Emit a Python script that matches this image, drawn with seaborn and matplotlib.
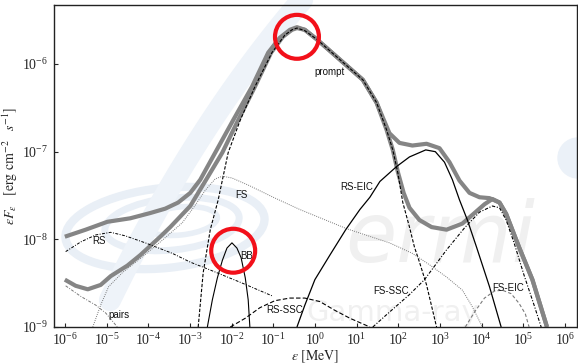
import numpy as np
import matplotlib
matplotlib.use("Agg")
import matplotlib.pyplot as plt
import seaborn as sns
from matplotlib.patches import Ellipse, Circle
from matplotlib.ticker import LogFormatterMathtext, NullLocator

# Spectral components: log10(E / MeV) and log10(E F_E / erg cm^-2 s^-1)
prompt_logE = [-2.80, -2.68, -2.51, -2.32, -2.08, -1.79, -1.44, -1.03, -0.72, -0.55, -0.43,
               -0.24, 0.05, 0.60, 1.15, 1.48, 1.72, 1.87, 1.99, 2.11, 2.27, 2.39, 2.51, 2.68, 2.92]
prompt_logF = [-9.00, -8.38, -7.89, -7.55, -7.01, -6.64, -6.26, -5.87, -5.67, -5.61, -5.59,
               -5.62, -5.72, -5.95, -6.18, -6.44, -6.75, -6.98, -7.24, -7.58, -7.86, -8.09, -8.26, -8.52, -9.00]

total_rs_logE = [-6.00, -5.50, -4.98, -4.43, -3.95, -3.59, -3.28, -2.99, -2.75, -2.39, -1.96,
                 -1.51, -1.12, -0.84, -0.60, -0.43, -0.24, 0.05, 0.60, 1.15, 1.48, 1.63, 1.79,
                 2.03, 2.34, 2.68, 2.99, 3.23, 3.47, 3.71, 3.95, 4.19, 4.43, 4.59, 4.90, 5.22, 5.57]
total_rs_logF = [-7.97, -7.89, -7.80, -7.76, -7.70, -7.65, -7.58, -7.47, -7.32, -7.01, -6.64,
                 -6.26, -5.87, -5.70, -5.61, -5.58, -5.61, -5.72, -5.95, -6.18, -6.44, -6.61, -6.79,
                 -6.90, -6.93, -6.91, -6.96, -7.12, -7.33, -7.47, -7.52, -7.53, -7.58, -7.71, -8.09, -8.46, -9.00]

total_fs_logE = [-6.00, -5.74, -5.45, -5.14, -4.90, -4.50, -4.19, -3.71, -3.47, -3.23, -2.99,
                 -2.80, -2.61, -2.22, -1.84, -1.44, -1.05, -0.77, -0.55, -0.43, -0.24, 0.05,
                 0.60, 1.15, 1.48, 1.72, 1.87, 1.99, 2.13, 2.27, 2.51, 2.80, 3.16, 3.54, 3.83,
                 4.07, 4.26, 4.43, 4.59, 4.90, 5.22, 5.57]
total_fs_logF = [-8.46, -8.53, -8.57, -8.52, -8.42, -8.30, -8.18, -7.97, -7.86, -7.74, -7.62,
                 -7.47, -7.32, -7.01, -6.64, -6.26, -5.87, -5.69, -5.61, -5.59, -5.61, -5.72,
                 -5.95, -6.18, -6.44, -6.75, -6.98, -7.23, -7.47, -7.64, -7.78, -7.86, -7.89, -7.82, -7.70,
                 -7.60, -7.54, -7.58, -7.71, -8.09, -8.46, -9.00]

rs_logE = [-5.98, -5.62, -5.26, -4.90, -4.55, -4.07, -3.42, -2.99, -2.51, -1.79, -1.00]
rs_logF = [-8.14, -8.03, -7.95, -7.92, -7.96, -8.04, -8.16, -8.26, -8.35, -8.49, -8.65]

fs_logE = [-5.33, -5.14, -4.95, -4.62, -4.14, -3.66, -3.18, -2.87, -2.63, -2.39, -2.22, -1.99,
           -1.56, -1.00, -0.36, 0.77, 1.79, 2.34, 2.75, 3.16, 3.54, 3.78, 4.02]
fs_logF = [-9.00, -8.75, -8.54, -8.38, -8.20, -8.01, -7.81, -7.61, -7.44, -7.31, -7.28, -7.30,
           -7.39, -7.52, -7.66, -7.88, -8.04, -8.16, -8.29, -8.43, -8.58, -8.77, -9.00]

bb_logE = [-2.58, -2.46, -2.34, -2.22, -2.11, -1.99, -1.87, -1.77, -1.67, -1.60, -1.56]
bb_logF = [-9.00, -8.69, -8.44, -8.24, -8.10, -8.04, -8.10, -8.21, -8.44, -8.69, -9.00]

rs_ssc_logE = [-2.03, -1.67, -1.32, -0.96, -0.60, -0.24, 0.12, 0.48, 0.84, 1.32]
rs_ssc_logF = [-9.00, -8.90, -8.78, -8.70, -8.67, -8.67, -8.71, -8.81, -8.90, -9.00]

rs_eic_logE = [-0.43, -0.24, 0.00, 0.36, 0.74, 1.08, 1.32, 1.56, 1.96, 2.27, 2.66, 2.89,
               3.11, 3.30, 3.47, 3.66, 3.88, 4.19, 4.47]
rs_eic_logF = [-9.00, -8.75, -8.46, -8.18, -7.89, -7.66, -7.52, -7.34, -7.17, -7.06, -6.98, -7.00,
               -7.12, -7.32, -7.55, -7.78, -8.09, -8.54, -9.00]

fs_ssc_logE = [1.39, 1.79, 2.27, 2.63, 3.16, 3.59, 3.95, 4.26, 4.43, 4.59, 4.78, 5.02, 5.26, 5.43]
fs_ssc_logF = [-9.00, -8.83, -8.63, -8.46, -8.12, -7.87, -7.69, -7.62, -7.64, -7.78, -8.04, -8.41, -8.75, -9.00]

fs_eic_logE = [3.61, 3.83, 4.07, 4.31, 4.50, 4.71, 4.90, 5.05, 5.14]
fs_eic_logF = [-9.00, -8.83, -8.67, -8.59, -8.58, -8.62, -8.73, -8.85, -9.00]

pairs_logE = [-5.98, -5.62, -5.26, -5.02, -4.74]
pairs_logF = [-8.53, -8.65, -8.75, -8.84, -9.00]

# Component labels: text, log10 E, log10 EF_E
label_text = ["prompt", "RS", "pairs", "FS", "BB", "RS-SSC", "RS-EIC", "FS-SSC", "FS-EIC"]
label_logE = [0.36, -5.19, -4.71, -1.77, -1.63, -0.72, 1.00, 1.82, 4.64]
label_logF = [-6.09, -8.02, -8.86, -7.49, -8.19, -8.81, -7.40, -8.59, -8.55]

# Highlighted features: prompt peak and thermal bump
mark_logE = [-0.43, -1.96]
mark_logF = [-5.69, -8.13]

x_ticks_exp = list(range(-6, 7))
y_ticks_exp = [-9, -8, -7, -6]

sns.set_style("ticks")
plt.rcParams["font.family"] = ["Liberation Serif", "DejaVu Serif"]
plt.rcParams["mathtext.fontset"] = "stix"

W, H = 578, 364
fig = plt.figure(figsize=(W / 100, H / 100), dpi=100)
fig.patch.set_facecolor("white")

# faint background logo layer, in pixel coordinates
bg = fig.add_axes([0, 0, 1, 1], zorder=0)
bg.set_xlim(0, W)
bg.set_ylim(H, 0)
bg.axis("off")
ring = "#e9eff6"
for (cx, cy, w, h, lw) in [(165, 228, 200, 80, 6), (172, 224, 135, 52, 5), (180, 221, 75, 28, 4)]:
    bg.add_patch(Ellipse((cx, cy), w, h, angle=-6, fill=False, ec=ring, lw=lw))
tt = np.linspace(0, 1, 80)
p0, p1, p2 = np.array([110, 300]), np.array([195, 125]), np.array([302, 0])
curve = ((1 - tt) ** 2)[:, None] * p0 + (2 * (1 - tt) * tt)[:, None] * p1 + (tt ** 2)[:, None] * p2
bg.plot(curve[:, 0], curve[:, 1], color="#eef3f9", lw=16, solid_capstyle="round")
bg.add_patch(Circle((578, 158), 20, color="#ebf1f8"))
bg.text(345, 262, "ermi", fontsize=60, style="italic", color="#f0f0f0",
        family="DejaVu Sans", ha="left", va="baseline")
bg.text(306, 321, "Gamma-ray", fontsize=21, color="#f0f0f0",
        family="DejaVu Sans", ha="left", va="baseline")

ax = fig.add_axes([54 / W, (H - 327) / H, (577 - 54) / W, (327 - 5) / H], zorder=1)
ax.set_facecolor("none")
ax.set_xscale("log")
ax.set_yscale("log")


def draw(logE, logF, color, lw, dashes=None, z=3):
    sns.lineplot(x=np.power(10.0, logE), y=np.power(10.0, logF), ax=ax, color=color,
                 linewidth=lw, sort=False, estimator=None, zorder=z)
    line = ax.lines[-1]
    if dashes is not None:
        line.set_dashes(dashes)
    line.set_solid_capstyle("butt")
    return line


gray = "#858585"
draw(total_rs_logE, total_rs_logF, gray, 3.0, z=2)
draw(total_fs_logE, total_fs_logF, gray, 3.0, z=2)
draw(prompt_logE, prompt_logF, "black", 0.8, dashes=(3, 1.5))
draw(rs_logE, rs_logF, "black", 0.7, dashes=(3, 1.5, 1, 1.5))
draw(fs_logE, fs_logF, "#7a7a7a", 0.7, dashes=(1, 1.2))
draw(bb_logE, bb_logF, "black", 0.8)
draw(rs_ssc_logE, rs_ssc_logF, "black", 0.8, dashes=(4, 2))
draw(rs_eic_logE, rs_eic_logF, "black", 0.9)
draw(fs_ssc_logE, fs_ssc_logF, "black", 0.8, dashes=(3, 1.5, 1, 1.5))
draw(fs_eic_logE, fs_eic_logF, "#7a7a7a", 0.8, dashes=(3, 2))
draw(pairs_logE, pairs_logF, "#7a7a7a", 0.7, dashes=(3, 1.5, 1, 1.5))

for t, le, lf in zip(label_text, label_logE, label_logF):
    ax.text(10 ** le, 10 ** lf, t, fontsize=7, family=["Liberation Sans", "DejaVu Sans"],
            ha="center", va="center", color="#111111", zorder=4)

ax.scatter(np.power(10.0, mark_logE), np.power(10.0, mark_logF), s=1000, facecolors="none",
           edgecolors="#f2101a", linewidths=3.0, zorder=5)

ax.set_xlim(10 ** -6.26, 10 ** 6.29)
ax.set_ylim(1e-9, 10 ** -5.327)
ax.set_xticks([10.0 ** e for e in x_ticks_exp])
ax.set_yticks([10.0 ** e for e in y_ticks_exp])
ax.xaxis.set_major_formatter(LogFormatterMathtext())
ax.yaxis.set_major_formatter(LogFormatterMathtext())
ax.xaxis.set_minor_locator(NullLocator())
ax.yaxis.set_minor_locator(NullLocator())
ax.tick_params(which="major", direction="in", length=3, width=0.8, labelsize=10,
               pad=4, top=False, right=False)
for s in ax.spines.values():
    s.set_linewidth(1.0)
    s.set_color("#222222")

ax.set_xlabel(r"$\varepsilon\ [\mathrm{MeV}]$", fontsize=10, labelpad=0)
ax.set_ylabel(r"$\varepsilon F_\varepsilon\ \ \ [\mathrm{erg\ cm}^{-2}\ \ \ s^{-1}]$", fontsize=10, labelpad=2)

fig.savefig("out.png", dpi=100, facecolor="white")
